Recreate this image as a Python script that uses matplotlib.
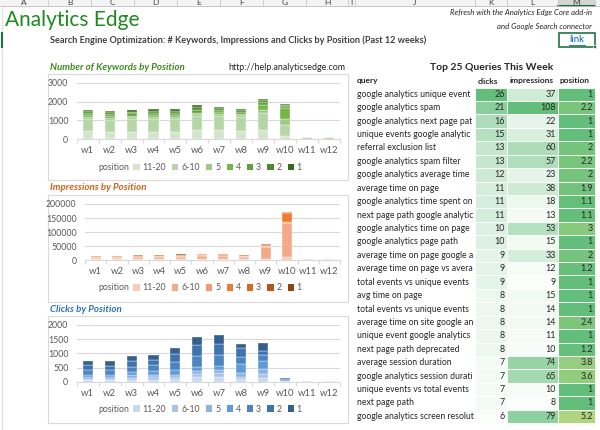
import matplotlib
matplotlib.use('Agg')
import matplotlib.pyplot as plt
import matplotlib.colors as mcolors
from matplotlib.patches import Rectangle, Patch
import numpy as np

plt.rcParams['font.family'] = ['Lato', 'DejaVu Sans']

#
# SECTION: data
#
weeks = ['w1', 'w2', 'w3', 'w4', 'w5', 'w6', 'w7', 'w8', 'w9', 'w10', 'w11', 'w12']
positions = ['11-20', '6-10', '5', '4', '3', '2', '1']

# rows follow the positions list (bottom of the stack first)
keywords = [
    [436, 401, 400, 400, 400, 506, 506, 436, 506, 192, 30, 30],
    [645, 645, 680, 700, 690, 715, 732, 732, 889, 558, 80, 80],
    [105, 105, 90, 90, 95, 104, 100, 95, 157, 331, 10, 10],
    [87, 79, 80, 85, 90, 95, 90, 90, 244, 576, 2, 2],
    [122, 130, 120, 130, 130, 150, 130, 120, 174, 104, 0, 0],
    [87, 90, 100, 110, 110, 130, 100, 90, 88, 53, 0, 0],
    [70, 67, 65, 72, 72, 96, 69, 59, 52, 35, 0, 0],
]
impressions = [
    [3000, 3000, 3500, 3500, 3500, 4000, 4000, 3500, 5000, 11700, 1500, 1500],
    [5500, 5500, 8000, 8500, 9000, 11000, 11000, 8500, 43000, 121700, 2500, 2500],
    [1500, 1500, 1500, 1800, 2000, 2500, 2000, 1500, 2500, 2300, 300, 300],
    [1000, 1000, 1200, 1000, 1500, 1500, 1500, 1200, 1500, 32800, 200, 200],
    [2500, 2500, 2500, 2000, 2500, 2000, 2500, 2000, 1300, 2000, 100, 100],
    [1200, 1200, 1500, 1400, 2000, 1900, 1900, 1500, 3000, 1500, 50, 50],
    [500, 500, 500, 500, 500, 500, 500, 500, 1000, 1000, 50, 50],
]
clicks = [
    [50, 45, 70, 70, 80, 150, 180, 90, 130, 5, 5, 5],
    [50, 50, 70, 80, 80, 110, 120, 90, 130, 5, 5, 5],
    [60, 55, 80, 80, 90, 120, 120, 110, 180, 5, 3, 3],
    [90, 85, 110, 130, 150, 130, 130, 340, 290, 10, 5, 5],
    [170, 165, 200, 220, 300, 400, 400, 250, 200, 25, 5, 5],
    [160, 160, 190, 180, 260, 370, 370, 295, 165, 30, 4, 4],
    [165, 160, 180, 180, 230, 300, 310, 165, 275, 50, 3, 3],
]

greens = ['#d3e5ca', '#b7d6a7', '#9ccb86', '#74b746', '#62a23a', '#4d8a2c', '#386a1d']
oranges = ['#f8cbb3', '#f3ab87', '#f09d73', '#ee7c2f', '#d6681f', '#b5571a', '#8c4414']
blues = ['#c7d8ef', '#a9c3e6', '#8db2df', '#5f9bd6', '#4a84c3', '#3f73ad', '#345f8e']

queries = [
    'google analytics unique events', 'google analytics spam',
    'google analytics next page path', 'unique events google analytics',
    'referral exclusion list', 'google analytics spam filter',
    'google analytics average time on page', 'average time on page',
    'google analytics time spent on page', 'next page path google analytics',
    'google analytics time on page', 'google analytics page path',
    'average time on page google analytics', 'average time on page vs average session duration',
    'total events vs unique events google analytics', 'avg time on page',
    'total events vs unique events', 'average time on site google analytics',
    'unique event google analytics', 'next page path deprecated',
    'average session duration', 'google analytics session duration',
    'unique events vs total events', 'next page path',
    'google analytics screen resolution',
]
q_clicks = [26, 21, 16, 15, 13, 13, 12, 11, 11, 11, 10, 10, 9, 9, 9, 8, 8, 8, 8, 8, 7, 7, 7, 7, 6]
q_impressions = [37, 108, 22, 31, 60, 57, 23, 38, 18, 13, 53, 15, 33, 12, 9, 15, 14, 14, 11, 10,
                 74, 65, 10, 8, 79]
q_position = [1, 2.2, 1, 1, 2, 2.2, 2, 1.9, 1.1, 1.1, 3, 1, 2, 1.2, 1, 1, 1, 2.4, 1, 1.2,
              3.8, 3.6, 1, 1, 5.2]

sheet_columns = ['A', 'B', 'C', 'D', 'E', 'F', 'G', 'H', 'I', 'J', 'K', 'L', 'M']

W, H = 600, 430
fig = plt.figure(figsize=(6, 4.3), dpi=100)
fig.patch.set_facecolor('white')

# overlay in pixel coordinates for the sheet decorations and the table
ov = fig.add_axes([0, 0, 1, 1], zorder=0)
ov.set_xlim(0, W)
ov.set_ylim(H, 0)
ov.axis('off')


def px_rect(l, t, r, b):
    return [l / W, 1 - b / H, (r - l) / W, (b - t) / H]


# Excel column header strip
col_edges = [0, 48, 91, 134, 177, 220, 263, 306, 348, 355, 475, 507, 558, 595]
ov.add_patch(Rectangle((0, 0), W, 6, facecolor='#f3f3f3', edgecolor='none'))
ov.add_patch(Rectangle((558, 0), 37, 6, facecolor='#d4d4d4', edgecolor='none'))
ov.plot([558, 595], [6, 6], color='#217346', lw=1.5)
ov.plot([0, W], [6.3, 6.3], color='#bfbfbf', lw=0.6)
for i, name in enumerate(sheet_columns):
    x0, x1 = col_edges[i], col_edges[i + 1]
    ov.plot([x1, x1], [0, 6], color='#c8c8c8', lw=0.6)
    ov.text((x0 + x1) / 2, 2.5, name, ha='center', va='center', fontsize=6, color='#444444')
ov.plot([2, 2], [7, H], color='#e3e3e3', lw=1)
ov.plot([2, 2], [33, 47], color='#217346', lw=1.5)

# titles
ov.text(5, 20, 'Analytics Edge', fontsize=15, color='#1f8a1f', va='center', ha='left')
ov.text(50, 40, 'Search Engine Optimization: # Keywords, Impressions and Clicks by Position (Past 12 weeks)',
        fontsize=6.6, fontweight='bold', color='#404040', va='center')
ov.text(592, 13, 'Refresh with the Analytics Edge Core add-in', fontsize=5.6, style='italic',
        color='#262626', ha='right', va='center')
ov.text(592, 27, 'and Google Search connector', fontsize=5.6, style='italic',
        color='#262626', ha='right', va='center')
ov.add_patch(Rectangle((559, 33), 36, 14, facecolor='white', edgecolor='#217346', lw=1.2))
ov.add_patch(Rectangle((593, 45), 3, 3, facecolor='#217346', edgecolor='white', lw=0.5))
ov.text(577, 40, 'link', fontsize=7, color='#0563c1', ha='center', va='center')
ov.plot([569, 585], [45, 45], color='#0563c1', lw=0.6)


def stacked_chart(box, plot, title, title_color, data, colors, yticks, legend_y, extra=None):
    l, t, r, b = box
    ov.add_patch(Rectangle((l, t), r - l, b - t, facecolor='white', edgecolor='#d9d9d9', lw=0.8))
    ov.text(50, t - 7, title, fontsize=7, fontweight='bold', style='italic', color=title_color,
            va='center')
    if extra:
        ov.text(345, t - 7, extra, fontsize=6.4, color='#262626', ha='right', va='center')

    ax = fig.add_axes(px_rect(*plot), zorder=2)
    ax.set_facecolor('none')
    x = np.arange(len(weeks))
    bottom = np.zeros(len(weeks))
    for vals, c in zip(data, colors):
        ax.bar(x, vals, 0.46, bottom=bottom, color=c, edgecolor='white', linewidth=0.25)
        bottom += np.array(vals)
    ax.set_xlim(-0.5, len(weeks) - 0.5)
    ax.set_ylim(yticks[0], yticks[-1])
    ax.set_yticks(yticks)
    ax.set_yticklabels([str(v) for v in yticks])
    ax.set_xticks(x)
    ax.set_xticklabels(weeks)
    ax.set_xticks(np.arange(-0.5, len(weeks)), minor=True)
    ax.tick_params(axis='x', which='major', length=0, pad=5, labelsize=6.8, labelcolor='#595959')
    ax.tick_params(axis='x', which='minor', length=3, color='#d9d9d9', width=0.8)
    ax.tick_params(axis='y', length=0, pad=6, labelsize=6.3, labelcolor='#595959')
    ax.grid(axis='y', color='#d9d9d9', lw=0.8)
    ax.set_axisbelow(True)
    for s in ['top', 'right', 'left']:
        ax.spines[s].set_visible(False)
    ax.spines['bottom'].set_color('#d9d9d9')
    ax.spines['bottom'].set_linewidth(0.8)

    ov.text(98, legend_y, 'position', fontsize=6.3, color='#595959', va='center')
    handles = [Patch(facecolor=c, edgecolor='none') for c in colors]
    ax.legend(handles, positions, ncol=7, loc='center left',
              bbox_to_anchor=(129 / W, 1 - legend_y / H), bbox_transform=fig.transFigure,
              frameon=False, fontsize=6.3, labelcolor='#595959', handlelength=0.7,
              handleheight=0.7, handletextpad=0.3, columnspacing=0.75, borderpad=0)
    return ax


stacked_chart((48, 74, 348, 180), (76.7, 82.7, 340, 139.3), 'Number of Keywords by Position',
              '#3d8b1f', keywords, greens, [0, 1000, 2000, 3000], 167.7,
              extra='http://help.analyticsedge.com')
stacked_chart((48, 195, 348, 302), (85, 204, 340, 260.3), 'Impressions by Position',
              '#d0621a', impressions, oranges, [0, 50000, 100000, 150000, 200000], 288)
stacked_chart((48, 316, 348, 423), (76.7, 325, 340, 381.7), 'Clicks by Position',
              '#2e75b6', clicks, blues, [0, 500, 1000, 1500, 2000], 409)

#
# SECTION: top queries table
#
ov.text(492, 67, 'Top 25 Queries This Week', fontsize=7.5, fontweight='bold', color='#262626',
        ha='center', va='center')
ov.text(357, 81, 'query', fontsize=6, fontweight='bold', color='#262626', va='center')
ov.text(478, 81, 'clicks', fontsize=6, fontweight='bold', color='#262626', va='center')
ov.text(510, 81, 'impressions', fontsize=6, fontweight='bold', color='#262626', va='center')
ov.text(560, 81, 'position', fontsize=6, fontweight='bold', color='#262626', va='center')

white_green = mcolors.LinearSegmentedColormap.from_list('wg', ['#fbfdfb', '#63be7b'])
green_lime = mcolors.LinearSegmentedColormap.from_list('gl', ['#63be7b', '#afd57f'])


def scale(vals):
    v = np.array(vals, dtype=float)
    return (v - v.min()) / (v.max() - v.min())


c_clicks = white_green(scale(q_clicks))
c_impr = white_green(scale(q_impressions))
c_pos = green_lime(scale(q_position))

renderer = fig.canvas.get_renderer()
row_h = 13.42
y0 = 94.3
cells = [(475, 507), (507, 558), (558, 595)]
for i, q in enumerate(queries):
    yc = y0 + i * row_h
    # the sheet cuts long queries at the clicks column, like Excel does
    txt = ov.text(357, yc, q, fontsize=6.2, color='#262626', va='center', zorder=1)
    while txt.get_window_extent(renderer).x1 > 474 and len(txt.get_text()) > 1:
        txt.set_text(txt.get_text()[:-1])
    vals = [q_clicks[i], q_impressions[i], q_position[i]]
    cols = [c_clicks[i], c_impr[i], c_pos[i]]
    for (xa, xb), v, c in zip(cells, vals, cols):
        ov.add_patch(Rectangle((xa, yc - row_h / 2), xb - xa, row_h, facecolor=c,
                               edgecolor='white', lw=0.6, zorder=2))
        ov.text(xb - 2, yc, f'{v:g}', fontsize=6.4, color='#262626', ha='right', va='center',
                zorder=3)

fig.savefig('out.png', dpi=100, facecolor='white')
